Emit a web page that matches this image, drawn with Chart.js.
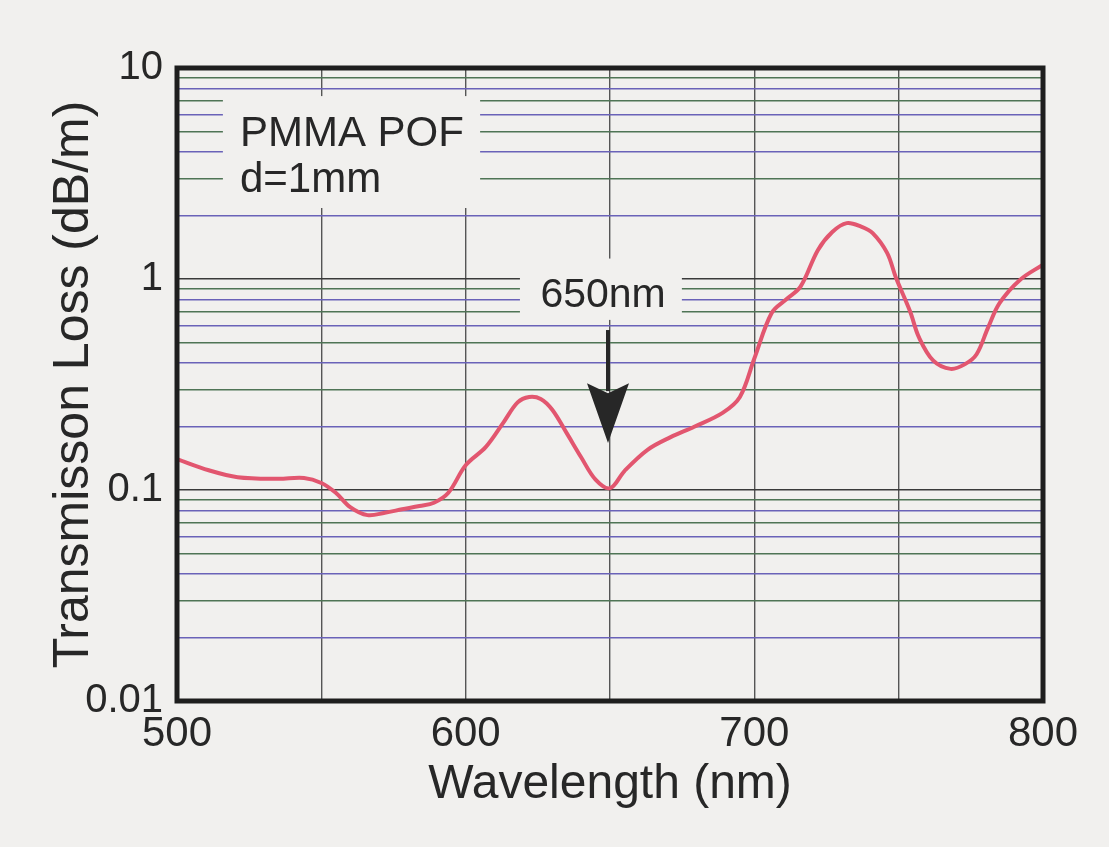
<!DOCTYPE html>
<html><head><meta charset="utf-8">
<script src="https://cdn.jsdelivr.net/npm/chart.js@4"></script>
<style>
html,body{margin:0;padding:0;background:#f1f0ee;}
#wrap{width:1109px;height:847px;position:relative;}
canvas{display:block;}
</style>
</head><body>
<div id="wrap"><canvas id="c" width="1109" height="847"></canvas></div>
<script>
// ---- data ----
const wavelength = [500, 511, 521, 535, 544, 550, 555, 560, 566, 572, 578, 584, 589, 594, 600, 607, 613, 618, 622, 626, 630, 635, 640, 645, 650, 655, 663, 671, 679, 689, 695, 700, 706, 711, 716, 722, 727, 732, 737, 741, 746, 749, 754, 757, 762, 768, 773, 777, 781, 785, 792, 800];
const loss       = [0.14, 0.124, 0.115, 0.113, 0.114, 0.108, 0.097, 0.083, 0.076, 0.078, 0.081, 0.084, 0.087, 0.097, 0.131, 0.16, 0.208, 0.26, 0.276, 0.27, 0.24, 0.186, 0.143, 0.112, 0.102, 0.123, 0.155, 0.178, 0.199, 0.232, 0.276, 0.42, 0.69, 0.8, 0.92, 1.37, 1.67, 1.84, 1.77, 1.65, 1.33, 1.02, 0.7, 0.53, 0.41, 0.375, 0.395, 0.44, 0.59, 0.77, 0.99, 1.17];
const xTickValues = [500, 550, 600, 650, 700, 750, 800];
const xTickLabels = ['500', '', '600', '', '700', '', '800'];
const yTickValues = [0.01,0.02,0.03,0.04,0.05,0.06,0.07,0.08,0.09,0.1,0.2,0.3,0.4,0.5,0.6,0.7,0.8,0.9,1,2,3,4,5,6,7,8,9,10];
const yLabelValues = [0.01, 0.1, 1, 10];
const yTickLabels = ['0.01', '0.1', '1', '10'];
const xTitle = 'Wavelength (nm)';
const yTitle = 'Transmisson Loss (dB/m)';
const noteLines = ['PMMA POF', 'd=1mm'];
const arrowLabel = '650nm';

// ---- annotation placement (data coordinates) ----
const BG = '#f1f0ee';
const FONT = '"Liberation Sans", Arial, Helvetica, sans-serif';
const labelBoxes = [
  {x0: 515.9, x1: 605, y0: 7.36, y1: 2.17},
  {x0: 618.8, x1: 674.9, y0: 1.25, y1: 0.64}
];
const noteAnchor = {x: 521.8, y: [4.27, 2.58]};
const arrowAnchor = {x: 650, labelX: 647.6, labelY: 0.737, top: 0.573, base: 0.321, tip: 0.167};

function gridColor(v){
  const e = Math.round(Math.log10(v));
  if (Math.abs(v - Math.pow(10, e)) < 1e-9) return '#3a3a3a';
  const m = Math.round(v / Math.pow(10, Math.floor(Math.log10(v) + 1e-9)));
  return (m % 2 === 0) ? '#6a62b8' : '#4f7455';
}

const overlay = {
  id: 'overlay',
  beforeDatasetsDraw(chart){
    const {ctx, scales:{x, y}} = chart;
    ctx.save();
    ctx.fillStyle = BG;
    labelBoxes.forEach(b => {
      const px0 = x.getPixelForValue(b.x0), px1 = x.getPixelForValue(b.x1);
      const py0 = y.getPixelForValue(b.y0), py1 = y.getPixelForValue(b.y1);
      ctx.fillRect(px0, py0, px1 - px0, py1 - py0);
    });
    ctx.restore();
  },
  afterDatasetsDraw(chart){
    const {ctx, chartArea:a, scales:{x, y}} = chart;
    ctx.save();
    ctx.fillStyle = '#272727';
    ctx.font = '42px ' + FONT;
    ctx.textAlign = 'left';
    ctx.textBaseline = 'alphabetic';
    noteLines.forEach((t, i) => ctx.fillText(t, x.getPixelForValue(noteAnchor.x), y.getPixelForValue(noteAnchor.y[i])));
    ctx.font = '41px ' + FONT;
    ctx.textAlign = 'center';
    ctx.fillText(arrowLabel, x.getPixelForValue(arrowAnchor.labelX), y.getPixelForValue(arrowAnchor.labelY));
    // arrow
    const ax = x.getPixelForValue(arrowAnchor.x) - 2;
    const yTop = y.getPixelForValue(arrowAnchor.top);
    const yBase = y.getPixelForValue(arrowAnchor.base);
    const yTip = y.getPixelForValue(arrowAnchor.tip);
    ctx.strokeStyle = '#272727';
    ctx.lineWidth = 4;
    ctx.beginPath(); ctx.moveTo(ax, yTop); ctx.lineTo(ax, yBase + 8); ctx.stroke();
    ctx.beginPath();
    ctx.moveTo(ax - 21, yBase);
    ctx.lineTo(ax, yBase + 10);
    ctx.lineTo(ax + 21, yBase);
    ctx.lineTo(ax, yTip);
    ctx.closePath();
    ctx.fillStyle = '#272727';
    ctx.fill();
    // frame
    ctx.strokeStyle = '#1e1e1e';
    ctx.lineWidth = 5;
    ctx.strokeRect(a.left, a.top, a.right - a.left, a.bottom - a.top);
    ctx.restore();
  }
};

new Chart(document.getElementById('c'), {
  type: 'line',
  data: {
    datasets: [{
      data: wavelength.map((w, i) => ({x: w, y: loss[i]})),
      borderColor: '#e2566f',
      borderWidth: 4,
      pointRadius: 0,
      tension: 0.35,
      fill: false
    }]
  },
  options: {
    responsive: false,
    animation: false,
    devicePixelRatio: 1,
    layout: {padding: {top: 68, right: 66, left: 0, bottom: 0}},
    plugins: {legend: {display: false}, tooltip: {enabled: false}},
    scales: {
      x: {
        type: 'linear', min: 500, max: 800,
        afterBuildTicks(s){ s.ticks = xTickValues.map(v => ({value: v})); },
        afterFit(s){ s.height = 146; },
        grid: {color: '#555', lineWidth: 1.4, drawTicks: false},
        border: {display: false},
        ticks: {
          autoSkip: false, maxRotation: 0, padding: 8,
          color: '#272727', font: {family: FONT, size: 42},
          callback(v){ const i = xTickValues.indexOf(v); return i >= 0 ? xTickLabels[i] : ''; }
        },
        title: {display: true, text: xTitle, color: '#272727', font: {family: FONT, size: 48}, padding: {top: 0, bottom: 33}}
      },
      y: {
        type: 'logarithmic', min: 0.01, max: 10,
        afterBuildTicks(s){ s.ticks = yTickValues.map(v => ({value: v})); },
        afterFit(s){ s.width = 177; },
        grid: {color: c => gridColor(c.tick.value), lineWidth: 1.4, drawTicks: false},
        border: {display: false},
        ticks: {
          autoSkip: false, padding: 14,
          color: '#272727', font: {family: FONT, size: 40},
          callback(v){
            const i = yLabelValues.findIndex(t => Math.abs(t - v) < 1e-9);
            return i >= 0 ? yTickLabels[i] : '';
          }
        },
        title: {display: true, text: yTitle, color: '#272727', font: {family: FONT, size: 50}, padding: {top: 44, bottom: 0}}
      }
    }
  },
  plugins: [overlay]
});
</script>
</body></html>
